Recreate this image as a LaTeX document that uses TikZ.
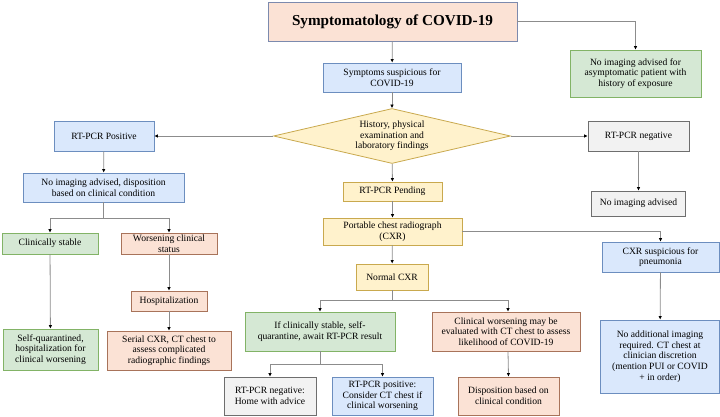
\documentclass[tikz,border=0pt]{standalone}
\usepackage{fontspec}
\setmainfont{Liberation Serif}
\usepackage{xcolor}
\usepackage{tikz}
\usetikzlibrary{positioning,shapes,calc,arrows.meta}

\definecolor{bluefill}{HTML}{DAE8FC}
\definecolor{blueline}{HTML}{6C8EBF}
\definecolor{greenfill}{HTML}{D5E8D4}
\definecolor{greenline}{HTML}{82B366}
\definecolor{peachfill}{HTML}{FBE2D5}
\definecolor{peachline}{HTML}{A8735A}
\definecolor{yellowfill}{HTML}{FFF2CC}
\definecolor{yellowline}{HTML}{C9A94E}
\definecolor{grayfill}{HTML}{F2F2F2}
\definecolor{grayline}{HTML}{6E6E6E}
\definecolor{titleline}{HTML}{7C8AAE}
\definecolor{connline}{HTML}{8C8C8C}

\begin{document}
\begin{tikzpicture}[x=1pt, y=-1pt,
    box/.style={draw, line width=0.8pt, align=center, inner sep=0pt,
      font=\fontsize{9.6}{10.6}\selectfont},
    bluebox/.style={box, fill=bluefill, draw=blueline},
    greenbox/.style={box, fill=greenfill, draw=greenline},
    peachbox/.style={box, fill=peachfill, draw=peachline},
    yellowbox/.style={box, fill=yellowfill, draw=yellowline},
    graybox/.style={box, fill=grayfill, draw=grayline},
    conn/.style={draw=connline, line width=0.8pt,
      -{Latex[black,length=3.5pt,width=3.5pt]}},
    line/.style={draw=connline, line width=0.8pt}]
    \useasboundingbox (0,0) rectangle (720,417);

    % top
    \node[box, fill=peachfill, draw=titleline, minimum width=249pt, minimum height=39pt,
      font=\fontsize{15.2}{18}\selectfont\bfseries] (title) at (392.5,21.5) {Symptomatology of COVID-19};
    \node[bluebox, minimum width=138pt, minimum height=29pt] (symp) at (392,77.5)
      {Symptoms suspicious for\\COVID-19};
    \node[greenbox, minimum width=131pt, minimum height=47pt] (asym) at (635.5,73.5)
      {No imaging advised for\\asymptomatic patient with\\history of exposure};
    \node[diamond, box, fill=yellowfill, draw=yellowline, aspect=4.3,
      minimum width=237pt, minimum height=55pt] (hist) at (392,136)
      {History, physical\\examination and\\laboratory findings};

    % left branch
    \node[bluebox, minimum width=100pt, minimum height=30pt] (pos) at (104,136) {RT-PCR Positive};
    \node[bluebox, minimum width=161pt, minimum height=29pt] (disp) at (103.5,187.5)
      {No imaging advised, disposition\\based on clinical condition};
    \node[greenbox, minimum width=96pt, minimum height=21pt] (stable) at (50,243.5) {Clinically stable};
    \node[peachbox, minimum width=96pt, minimum height=21pt] (worse) at (169,243.5)
      {Worsening clinical\\status};
    \node[peachbox, minimum width=76pt, minimum height=20pt] (hosp) at (169,301) {Hospitalization};
    \node[greenbox, minimum width=95pt, minimum height=41pt] (selfq) at (50.5,349.5)
      {Self-quarantined,\\hospitalization for\\clinical worsening};
    \node[peachbox, minimum width=124pt, minimum height=39pt] (serial) at (169,350.5)
      {Serial CXR, CT chest to\\assess complicated\\radiographic findings};

    % right branch
    \node[graybox, minimum width=101pt, minimum height=30pt] (neg) at (638.5,136) {RT-PCR negative};
    \node[graybox, minimum width=94pt, minimum height=25pt] (noimg) at (638.5,203.5) {No imaging advised};

    % middle branch
    \node[yellowbox, minimum width=99pt, minimum height=19pt] (pend) at (392.5,191.5) {RT-PCR Pending};
    \node[yellowbox, minimum width=139pt, minimum height=27pt] (port) at (392.5,231.5)
      {Portable chest radiograph\\(CXR)};
    \node[yellowbox, minimum width=72pt, minimum height=26pt] (normal) at (392,277) {Normal CXR};
    \node[bluebox, minimum width=117pt, minimum height=30pt] (susp) at (660.5,257)
      {CXR suspicious for\\pneumonia};
    \node[bluebox, minimum width=119pt, minimum height=73pt] (noadd) at (660,356.5)
      {No additional imaging\\required. CT chest at\\clinician discretion\\(mention PUI or COVID\\+ in order)};
    \node[greenbox, minimum width=150pt, minimum height=39pt] (ifstable) at (320,331.5)
      {If clinically stable, self-\\quarantine, await RT-PCR result};
    \node[peachbox, minimum width=148pt, minimum height=39pt] (cworse) at (506,331.5)
      {Clinical worsening may be\\evaluated with CT chest to assess\\likelihood of COVID-19};
    \node[graybox, minimum width=92pt, minimum height=38pt] (home) at (270,396)
      {RT-PCR negative:\\Home with advice};
    \node[bluebox, minimum width=101pt, minimum height=38pt] (rtpos) at (382.5,396)
      {RT-PCR positive:\\Consider CT chest if\\clinical worsening};
    \node[peachbox, minimum width=101pt, minimum height=38pt] (dispcc) at (508.5,396)
      {Disposition based on\\clinical condition};

    % connectors
    \draw[conn] (title) -- (symp);
    \draw[conn] (title.east) -| (asym.north);
    \draw[conn] (symp) -- (hist);
    \draw[conn] (hist.west) -- (pos.east);
    \draw[conn] (hist.east) -- (neg.west);
    \draw[conn] (neg) -- (noimg);
    \draw[conn] (pos) -- (disp);
    \draw[line] (disp.south) -- ++(0,15.5) coordinate (split);
    \draw[conn] (split) -| (stable.north);
    \draw[conn] (split) -| (worse.north);
    \draw[conn] (stable) -- (selfq);
    \draw[conn] (worse) -- (hosp);
    \draw[conn] (hosp) -- (serial);
    \draw[conn] (hist) -- (pend);
    \draw[conn] (pend) -- (port);
    \draw[conn] (port) -- (normal);
    \draw[conn] (port.east) -| (susp.north);
    \draw[conn] (susp) -- (noadd);
    \draw[line] (normal.south) -- ++(0,10) coordinate (nsplit);
    \draw[conn] (nsplit) -| (ifstable.north);
    \draw[conn] (nsplit) -| ([xshift=2pt]cworse.north);
    \draw[conn] ([xshift=2pt]cworse.south) -- (dispcc.north);
    \draw[line] (ifstable.south) -- ++(0,12.5) coordinate (isplit);
    \draw[conn] (isplit) -| (home.north);
    \draw[conn] (isplit) -| (rtpos.north);
  \end{tikzpicture}
\end{document}
